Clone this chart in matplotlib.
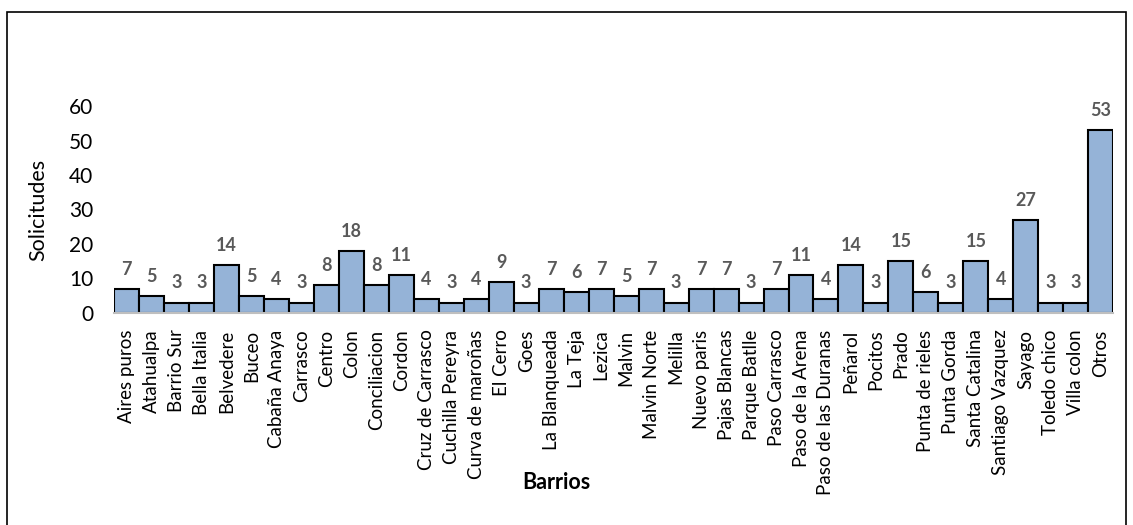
import matplotlib
matplotlib.use("Agg")
import matplotlib.pyplot as plt
from matplotlib.patches import Rectangle

barrios = ["Aires puros", "Atahualpa", "Barrio Sur", "Bella Italia", "Belvedere",
           "Buceo", "Cabaña Anaya", "Carrasco", "Centro", "Colon",
           "Conciliacion", "Cordon", "Cruz de Carrasco", "Cuchilla Pereyra",
           "Curva de maroñas", "El Cerro", "Goes", "La Blanqueada", "La Teja",
           "Lezica", "Malvin", "Malvin Norte", "Melilla", "Nuevo paris",
           "Pajas Blancas", "Parque Batlle", "Paso Carrasco", "Paso de la Arena",
           "Paso de las Duranas", "Peñarol", "Pocitos", "Prado",
           "Punta de rieles", "Punta Gorda", "Santa Catalina", "Santiago Vazquez",
           "Sayago", "Toledo chico", "Villa colon", "Otros"]
solicitudes = [7, 5, 3, 3, 14, 5, 4, 3, 8, 18, 8, 11, 4, 3, 4, 9, 3, 7, 6, 7,
               5, 7, 3, 7, 7, 3, 7, 11, 4, 14, 3, 15, 6, 3, 15, 4, 27, 3, 3, 53]
yticks = [0, 10, 20, 30, 40, 50, 60]

plt.rcParams['font.family'] = ['Lato', 'DejaVu Sans']

fig = plt.figure(figsize=(11.33, 5.25), dpi=100)
ax = fig.add_axes([0.1006, 0.404, 0.8820, 0.394])

x = list(range(len(barrios)))
bars = ax.bar(x, solicitudes, width=1.0, color="#95B3D7", edgecolor="black",
              linewidth=1.5, zorder=2)
for b, v in zip(bars, solicitudes):
    ax.annotate(str(v), (b.get_x() + b.get_width() / 2, v), xytext=(0, 8),
                textcoords="offset points", ha="center", va="bottom",
                fontsize=13, fontweight="bold", color="#595959")

ax.set_xlim(-0.5, len(barrios) - 0.5)
ax.set_ylim(0, 60)
ax.set_yticks(yticks)
ax.set_yticklabels([str(t) for t in yticks], fontsize=15)
ax.set_xticks(x)
ax.set_xticklabels(barrios, rotation=90, fontsize=13.5)
ax.tick_params(axis="both", length=0)
ax.tick_params(axis="x", pad=12)
ax.tick_params(axis="y", pad=15)

for s in ["top", "right", "left"]:
    ax.spines[s].set_visible(False)
ax.spines["bottom"].set_color("#BFBFBF")
ax.spines["bottom"].set_linewidth(1.5)

ax.set_ylabel("Solicitudes", fontsize=15.5)
ax.yaxis.set_label_coords(-0.076, 0.5)
ax.yaxis.label.set_va("center")
ax.set_xlabel("Barrios", fontsize=15.5, fontweight="bold")
ax.xaxis.set_label_coords(0.443, -0.822)
ax.xaxis.label.set_va("center")

fig.patches.append(Rectangle((7 / 1133, -0.05), 1119 / 1133, 1.05 - 12 / 525,
                             transform=fig.transFigure, fill=False,
                             edgecolor="black", linewidth=1.2))

fig.savefig("out.png", dpi=100)
